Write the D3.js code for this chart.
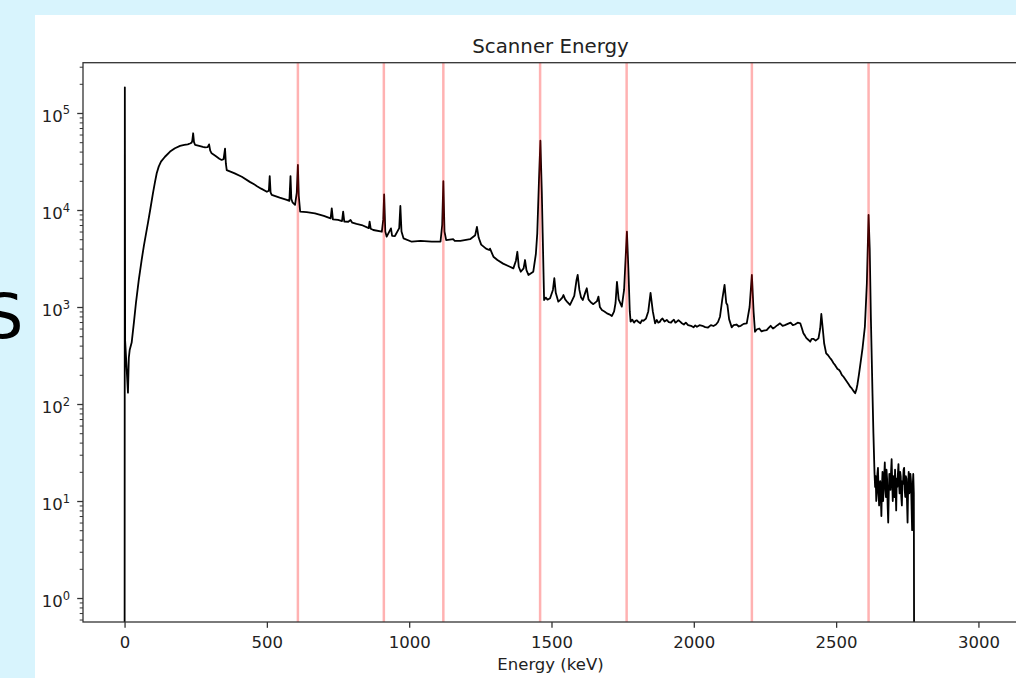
<!DOCTYPE html>
<html>
<head>
<meta charset="utf-8">
<script src="https://cdn.jsdelivr.net/npm/d3@7"></script>
<style>
  body { margin: 0; background: #d8f4fd; }
  svg { display: block; font-family: "DejaVu Sans", sans-serif; }
</style>
</head>
<body>
<svg width="1016" height="678"></svg>
<script>
// spectrum: [energy keV, counts]
let spectrumPoints = [
  [0, 0.01], [1, 184000], [2, 450], [12, 131], [15, 300], [18, 360], [25, 430],
  [33, 700], [40, 1100], [50, 1900], [60, 3050], [68, 4300], [75, 5600], [83, 7600],
  [90, 10000], [100, 15000], [107, 19500], [113, 23900], [120, 28000], [128, 31500],
  [142, 35400], [160, 40000], [177, 43300], [195, 45800], [210, 46800], [222, 47500],
  [230, 48500], [236, 49500], [238, 52000], [241, 61800], [244, 50000],
  [248, 46800], [262, 45800], [275, 44800], [283, 44300], [292, 44500], [297, 47500],
  [301, 41000], [306, 38400], [320, 36000], [333, 33800],
  [341, 32800], [348, 33500], [353, 43000], [356, 30000], [359, 25800], [385, 24000],
  [412, 22000], [440, 19500], [455, 18400], [464, 17700], [480, 16600], [500, 15400],
  [507, 15800], [510, 22400], [513, 15200],
  [517, 14300], [545, 13400], [570, 12700], [579, 12400], [583, 22400], [586, 13000],
  [590, 12000], [599, 11300], [605, 15000], [609, 29100], [612, 14000], [617, 9600],
  [640, 9500], [669, 9250], [700, 8700], [724, 8200], [728, 10400], [732, 8000],
  [750, 7900], [764, 7700], [768, 9600], [772, 7600], [786, 7570], [794, 7900],
  [800, 7400], [815, 7200], [833, 7000], [858, 6500], [861, 7600], [865, 6400],
  [874, 6220], [904, 5970], [909, 8000], [912, 14500], [916, 6000], [921, 5310],
  [936, 6470], [940, 5400], [950, 5390], [965, 6500], [969, 11000], [973, 6000],
  [980, 5100], [1009, 4710], [1040, 4800], [1079, 4710], [1110, 4710], [1116, 7000],
  [1120, 19800], [1124, 6000], [1130, 4900], [1155, 5000], [1160, 4800], [1180, 4800],
  [1214, 5000], [1232, 5500], [1238, 6700], [1244, 5200], [1253, 4400], [1270, 4000],
  [1281, 3870], [1284, 4000], [1296, 3300], [1310, 3050], [1330, 2800], [1348, 2650],
  [1366, 2500], [1375, 3000],
  [1380, 3710], [1385, 2600], [1392, 2310], [1402, 2500], [1407, 3050], [1412, 2400],
  [1419, 2140], [1436, 2310], [1445, 3500], [1450, 5750], [1456, 20000], [1461, 51800],
  [1466, 15000], [1469, 5750], [1474, 1180], [1480, 1250], [1486, 1190], [1495, 1230],
  [1505, 1500], [1510, 1980],
  [1515, 1400], [1524, 1135], [1530, 1180], [1538, 1250], [1542, 1330], [1548, 1200],
  [1556, 1120], [1565, 1050],
  [1580, 1300], [1588, 1900], [1592, 2140], [1598, 1500], [1604, 1250], [1610, 1180],
  [1620, 1450], [1624, 1560], [1630, 1200], [1638, 1120], [1647, 1070], [1660, 1150],
  [1665, 1280], [1670, 1000], [1677, 931], [1686, 900], [1695, 860], [1703, 840],
  [1712, 807], [1720, 900], [1725, 1100], [1730, 1820], [1736, 1200],
  [1747, 1010], [1755, 1500], [1760, 3000], [1765, 5970], [1770, 2500], [1775, 900],
  [1778, 706], [1784, 740], [1790, 690], [1795, 720], [1800, 730], [1806, 700],
  [1812, 680], [1818, 730], [1823, 722], [1832, 760], [1840, 900],
  [1848, 1400], [1856, 900], [1864, 679], [1870, 735], [1875, 690], [1880, 700],
  [1885, 740], [1890, 760], [1897, 710], [1905, 735], [1912, 700], [1920, 690],
  [1925, 720], [1930, 740], [1935, 690], [1940, 706], [1946, 730], [1952, 706],
  [1958, 680], [1965, 660], [1972, 690], [1980, 650], [1990, 640], [1999, 618],
  [2005, 645], [2011, 626], [2020, 650], [2030, 640], [2040, 620], [2050, 615],
  [2060, 650], [2069, 637], [2078, 660],
  [2085, 700], [2092, 794], [2100, 1200], [2108, 1690], [2114, 1100], [2118, 1050],
  [2124, 750], [2133, 618], [2140, 650], [2150, 660], [2158, 630], [2165, 640],
  [2175, 670], [2186, 679], [2196, 1000],
  [2204, 2140], [2210, 900], [2215, 556], [2222, 590], [2230, 600], [2238, 560],
  [2245, 570], [2256, 579], [2263, 610],
  [2270, 640], [2278, 600], [2285, 620], [2294, 650], [2303, 679], [2312, 640],
  [2320, 650], [2330, 670], [2340, 690], [2348, 650], [2355, 660], [2365, 690],
  [2374, 679], [2380, 600], [2385, 536], [2390, 510], [2395, 480], [2402, 460],
  [2409, 439], [2414, 470], [2420, 470], [2428, 450],
  [2438, 475], [2444, 600], [2448, 847], [2453, 600], [2458, 420], [2465, 333],
  [2471, 320], [2478, 300], [2484, 285], [2491, 263], [2497, 250], [2505, 230],
  [2510, 225], [2515, 215], [2520, 200], [2526, 191], [2532, 180], [2538, 170],
  [2544, 160], [2550, 150], [2555, 145], [2558, 140], [2562, 135], [2567, 129],
  [2571, 140], [2575, 160], [2580, 200], [2584, 243], [2593, 380],
  [2601, 626], [2608, 1750], [2614, 8880], [2618, 4000], [2622, 800], [2628, 120],
  [2631, 50], [2635, 19], [2637, 14], [2639, 18], [2641, 10], [2643, 12], [2645, 19],
  [2647, 22], [2649, 13], [2651, 9], [2653, 15], [2655, 16], [2657, 11], [2659, 7],
  [2661, 14], [2663, 20], [2665, 10], [2667, 13], [2669, 18], [2671, 25], [2673, 14],
  [2675, 11], [2677, 21], [2679, 17], [2681, 9], [2683, 6], [2685, 12], [2687, 19],
  [2689, 15], [2691, 13], [2693, 20], [2695, 27], [2697, 16], [2699, 10], [2701, 18],
  [2703, 16], [2705, 11], [2707, 21], [2709, 14], [2711, 8], [2713, 17], [2715, 14],
  [2717, 19], [2719, 24], [2721, 15], [2723, 12], [2725, 20], [2727, 18], [2729, 11],
  [2731, 9], [2733, 16], [2735, 15], [2737, 21], [2739, 22], [2741, 13], [2743, 11],
  [2745, 18], [2747, 17], [2749, 10], [2751, 6], [2753, 14], [2755, 20], [2757, 12],
  [2759, 13], [2761, 19], [2763, 16], [2765, 9], [2767, 5], [2769, 14],
  [2771, 19], [2773, 12], [2775, 0.01], [3000, 0.01]
];

// reference energies marked in red (keV)
let peakLines = [609, 911, 1120, 1460, 1764, 2204, 2614];

let xTickValues = [0, 500, 1000, 1500, 2000, 2500, 3000];
let yTickExponents = [0, 1, 2, 3, 4, 5];

let svg = d3.select("svg");

let plot = {left: 83, right: 1018, top: 62.7, bottom: 622};

// page background + white panel
svg.append("rect").attr("width", 1016).attr("height", 678).attr("fill", "#d8f4fd");
svg.append("rect").attr("x", 35).attr("y", 15).attr("width", 981).attr("height", 663).attr("fill", "#ffffff");

// the cut off slide heading at the far left
svg.append("text")
    .attr("x", -16).attr("y", 338)
    .style("font-size", "62px")
    .attr("fill", "#000")
    .text("S");

let xScale = d3.scaleLinear()
    .domain([-146, 3139])
    .range([plot.left, plot.right]);

let yScale = d3.scaleLog()
    .domain([0.566, 330000])
    .range([plot.bottom, plot.top]);

svg.append("clipPath").attr("id", "plotclip")
    .append("rect")
    .attr("x", plot.left).attr("y", plot.top)
    .attr("width", plot.right - plot.left)
    .attr("height", plot.bottom - plot.top);

let inner = svg.append("g").attr("clip-path", "url(#plotclip)");

let line = d3.line()
    .x(d => xScale(d[0]))
    .y(d => Math.min(yScale(d[1]), 2000));

inner.append("path")
    .datum(spectrumPoints)
    .attr("d", line)
    .attr("fill", "none")
    .attr("stroke", "#000")
    .attr("stroke-width", 1.8)
    .attr("stroke-linejoin", "round");

// red reference lines drawn over the data
inner.selectAll(".peak")
    .data(peakLines)
    .enter().append("line")
    .attr("class", "peak")
    .attr("x1", d => xScale(d)).attr("x2", d => xScale(d))
    .attr("y1", plot.top).attr("y2", plot.bottom)
    .attr("stroke", "red")
    .attr("stroke-opacity", 0.3)
    .attr("stroke-width", 2.5);

// x axis
let xAxis = d3.axisBottom(xScale)
    .tickValues(xTickValues)
    .tickSize(5.8)
    .tickPadding(8.5)
    .tickFormat(d3.format("d"));

let gx = svg.append("g")
    .attr("transform", "translate(0," + plot.bottom + ")")
    .call(xAxis);
gx.select(".domain").remove();
gx.selectAll("line").attr("stroke", "#333").attr("stroke-width", 1.3);
gx.selectAll("text")
    .attr("fill", "#222")
    .style("font-size", "16.5px")
    .style("font-family", "DejaVu Sans, sans-serif");

// y axis, major + minor ticks
let majorVals = yTickExponents.map(e => Math.pow(10, e));
let minorVals = [];
for (let e = -1; e <= 5; e++) {
    for (let m = 2; m <= 9; m++) {
        let v = m * Math.pow(10, e);
        if (v >= 0.566 && v <= 330000) minorVals.push(v);
    }
}

let gyMinor = svg.append("g")
    .attr("transform", "translate(" + plot.left + ",0)")
    .call(d3.axisLeft(yScale).tickValues(minorVals).tickSize(3.3).tickFormat(""));
gyMinor.select(".domain").remove();
gyMinor.selectAll("line").attr("stroke", "#333").attr("stroke-width", 1);

let gy = svg.append("g")
    .attr("transform", "translate(" + plot.left + ",0)")
    .call(d3.axisLeft(yScale).tickValues(majorVals).tickSize(5.8).tickFormat(""));
gy.select(".domain").remove();
gy.selectAll("line").attr("stroke", "#333").attr("stroke-width", 1.3);

let ylabels = svg.append("g");
yTickExponents.forEach(e => {
    let t = ylabels.append("text")
        .attr("x", 70)
        .attr("y", yScale(Math.pow(10, e)) + 9)
        .attr("text-anchor", "end")
        .attr("fill", "#222")
        .style("font-size", "16.5px")
        .text("10");
    t.append("tspan")
        .attr("dy", -7.5)
        .style("font-size", "11.5px")
        .text(e);
});

// spines
svg.append("rect")
    .attr("x", plot.left).attr("y", plot.top)
    .attr("width", plot.right - plot.left)
    .attr("height", plot.bottom - plot.top)
    .attr("fill", "none")
    .attr("stroke", "#333")
    .attr("stroke-width", 1.3);

// title and axis label
svg.append("text")
    .attr("x", (plot.left + plot.right) / 2)
    .attr("y", 53)
    .attr("text-anchor", "middle")
    .attr("fill", "#222")
    .style("font-size", "19.8px")
    .text("Scanner Energy");

svg.append("text")
    .attr("x", (plot.left + plot.right) / 2)
    .attr("y", 670)
    .attr("text-anchor", "middle")
    .attr("fill", "#222")
    .style("font-size", "16.5px")
    .text("Energy (keV)");
</script>
</body>
</html>
